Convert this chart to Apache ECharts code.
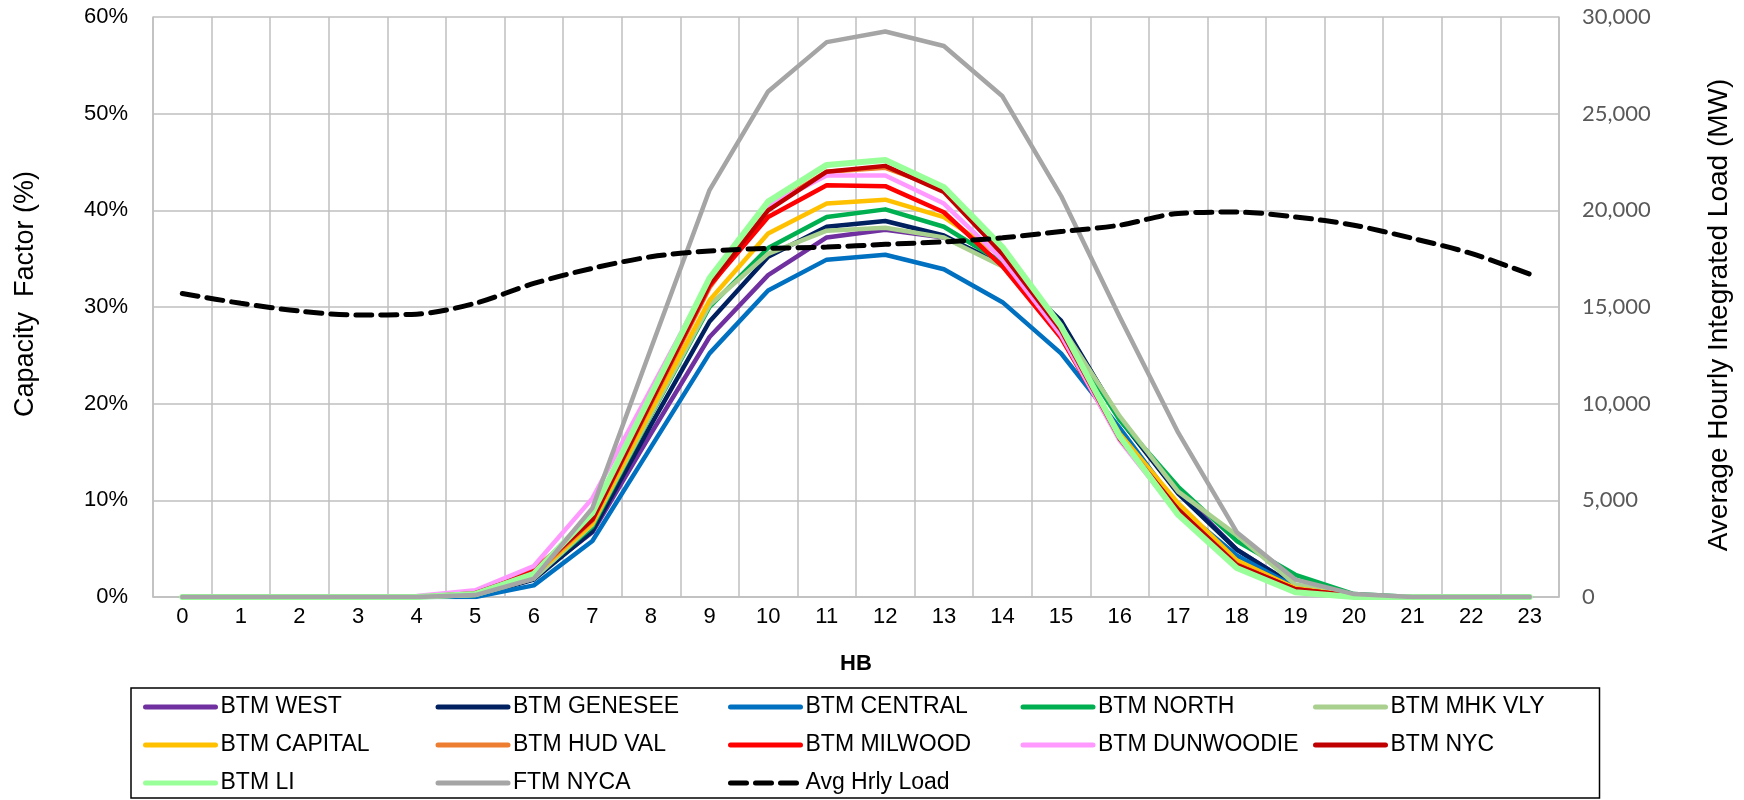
<!DOCTYPE html>
<html>
<head>
<meta charset="utf-8">
<script src="https://cdn.jsdelivr.net/npm/echarts@6/dist/echarts.min.js"></script>
<style>
  html, body { margin: 0; padding: 0; background: #fff; }
  #chart { width: 1744px; height: 800px; }
</style>
</head>
<body>
<div id="chart"></div>
<script>
// hour beginning
const hours = ['0','1','2','3','4','5','6','7','8','9','10','11','12','13','14','15','16','17','18','19','20','21','22','23'];

// capacity factor (%) by zone
const btmWest      = [0,0,0,0,0,0.2,2.0,6.7,16.9,26.9,33.3,37.2,38.0,37.2,34.5,28.3,18.5,11.0,4.9,1.1,0.1,0,0,0];
const btmGenesee   = [0,0,0,0,0,0.1,1.8,6.8,17.8,28.5,35.2,38.3,38.9,37.4,34.3,28.6,18.4,10.7,4.9,1.1,0.1,0,0,0];
const btmCentral   = [0,0,0,0,0,0,1.2,5.8,15.5,25.2,31.7,34.9,35.4,33.9,30.5,25.2,17.5,9.3,4.3,1.0,0.1,0,0,0];
const btmNorth     = [0,0,0,0,0,0.2,2.0,7.3,18.8,30.0,36.1,39.3,40.1,38.3,34.6,27.8,18.3,11.4,5.8,2.3,0.3,0,0,0];
const btmMhkVly    = [0,0,0,0,0,0.2,1.9,7.5,18.9,30.2,35.5,37.9,38.2,37.2,34.2,28.0,18.7,10.9,6.4,1.3,0.2,0,0,0];
const btmCapital   = [0,0,0,0,0,0.3,2.2,7.6,19.3,30.7,37.6,40.7,41.1,39.3,35.2,27.3,16.9,9.7,3.8,0.9,0.1,0,0,0];
const btmHudVal    = [0,0,0,0,0,0.3,2.3,7.9,20.0,32.0,40.3,44.0,44.4,42.2,35.5,27.5,16.6,9.0,3.4,0.8,0.1,0,0,0];
const btmMilwood   = [0,0,0,0,0,0.4,2.8,8.1,20.2,32.2,39.3,42.6,42.5,39.8,34.2,26.8,16.4,9.0,3.3,0.8,0.1,0,0,0];
const btmDunwoodie = [0,0,0,0,0.1,0.7,3.2,10.2,21.5,32.8,40.5,43.6,43.6,40.7,34.9,27.1,16.2,8.6,3.1,0.6,0.1,0,0,0];
const btmNyc       = [0,0,0,0,0,0.4,2.5,8.0,20.2,32.4,40.0,44.0,44.6,41.9,35.5,27.6,16.4,9.0,3.3,0.8,0.1,0,0,0];
const btmLi        = [0,0,0,0,0,0.3,2.4,8.7,20.9,33.0,40.9,44.7,45.2,42.4,36.2,28.0,16.6,8.5,3.0,0.5,0,0,0,0];
const ftmNyca      = [0,0,0,0,0,0.2,1.9,9.2,25.7,42.1,52.3,57.4,58.5,57.0,51.8,41.5,29.0,17.0,6.7,1.8,0.3,0,0,0];

// average hourly integrated load (MW)
const avgLoad = [15700,15190,14790,14580,14630,15190,16220,17000,17600,17900,18030,18100,
                 18240,18370,18580,18900,19230,19840,19910,19660,19230,18550,17770,16700];

const chart = echarts.init(document.getElementById('chart'));

// series list: name, data, colour, width
const zones = [
  ['BTM WEST', btmWest, '#7030a0', 4.5],
  ['BTM GENESEE', btmGenesee, '#002060', 4.5],
  ['BTM CENTRAL', btmCentral, '#0070c0', 4.5],
  ['BTM NORTH', btmNorth, '#00b050', 4.5],
  ['BTM MHK VLY', btmMhkVly, '#a9d08e', 4.5],
  ['BTM CAPITAL', btmCapital, '#ffc000', 4.5],
  ['BTM HUD VAL', btmHudVal, '#ed7d31', 4.5],
  ['BTM MILWOOD', btmMilwood, '#ff0000', 4.5],
  ['BTM DUNWOODIE', btmDunwoodie, '#ff99ff', 4.5],
  ['BTM NYC', btmNyc, '#c00000', 4.5],
  ['BTM LI', btmLi, '#99ff99', 6],
  ['FTM NYCA', ftmNyca, '#a5a5a5', 4.5]
];

const series = zones.map(z => ({
  name: z[0],
  type: 'line',
  data: z[1],
  symbol: 'none',
  color: z[2],
  lineStyle: { color: z[2], width: z[3], cap: 'round', join: 'round' }
}));

series.push({
  name: 'Avg Hrly Load',
  type: 'line',
  yAxisIndex: 1,
  data: avgLoad,
  symbol: 'none',
  smooth: 0.3,
  color: '#000',
  lineStyle: { color: '#000', width: 5, type: [16, 9], cap: 'round' }
});

const gridColor = '#bfbfbf';

const option = {
  animation: false,
  backgroundColor: '#fff',
  grid: { left: 153, right: 185, top: 17, bottom: 203 },
  legend: {
    left: 131,
    top: 688,
    width: 1500,
    padding: [6, 6, 2, 12],
    borderColor: '#000',
    borderWidth: 1.5,
    itemWidth: 70,
    itemHeight: 26,
    itemGap: 12,
    itemStyle: { opacity: 0 },
    lineStyle: { width: 5, cap: 'round' },
    textStyle: {
      fontFamily: 'Liberation Sans',
      fontSize: 23,
      color: '#000',
      width: 203,
      lineHeight: 26
    },
    data: series.map(s => s.name)
  },
  xAxis: {
    type: 'category',
    data: hours,
    name: 'HB',
    nameLocation: 'middle',
    nameGap: 56,
    nameTextStyle: { fontFamily: 'Liberation Sans', fontSize: 22, fontWeight: 'bold', color: '#000' },
    axisLine: { lineStyle: { color: gridColor, width: 1.5 } },
    axisTick: { show: false },
    axisLabel: { fontFamily: 'Liberation Sans', fontSize: 22, color: '#000', margin: 9 },
    splitLine: { show: true, lineStyle: { color: gridColor, width: 1.5 } }
  },
  yAxis: [
    {
      type: 'value',
      min: 0,
      max: 60,
      interval: 10,
      name: 'Capacity  Factor (%)',
      nameLocation: 'middle',
      nameGap: 114,
      nameTextStyle: { fontFamily: 'Liberation Sans', fontSize: 27, color: '#000', padding: [0, 0, 0, 26] },
      axisLine: { show: true, lineStyle: { color: gridColor, width: 1.5 } },
      axisTick: { show: false },
      axisLabel: { fontFamily: 'Liberation Sans', fontSize: 22, color: '#000', margin: 25, formatter: '{value}%' },
      splitLine: { lineStyle: { color: gridColor, width: 1.5 } }
    },
    {
      type: 'value',
      min: 0,
      max: 30000,
      interval: 5000,
      name: 'Average Hourly Integrated Load (MW)',
      nameLocation: 'middle',
      nameGap: 146,
      nameTextStyle: { fontFamily: 'Liberation Sans', fontSize: 28, color: '#000', padding: [0, 16, 0, 0] },
      axisLine: { show: true, lineStyle: { color: gridColor, width: 1.5 } },
      axisTick: { show: false },
      axisLabel: {
        fontFamily: 'Lato', fontSize: 22, color: '#595959', margin: 23,
        formatter: v => v.toLocaleString('en-US')
      },
      splitLine: { show: false }
    }
  ],
  series: series
};

chart.setOption(option);
</script>
</body>
</html>
